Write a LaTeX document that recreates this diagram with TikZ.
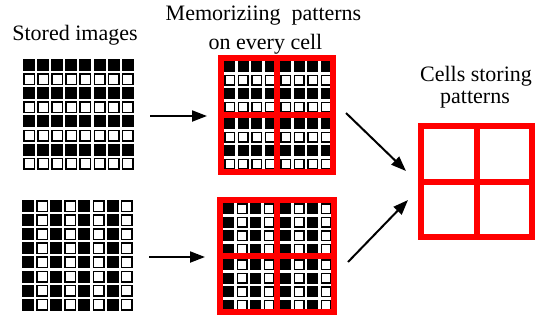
\documentclass[tikz,border=0pt]{standalone}
\usepackage{fontspec}
\setmainfont{Liberation Serif}
\usetikzlibrary{arrows.meta}
\newcommand{\pixblk}[3]{\fill (#1,#2) rectangle ++(#3,#3);}
\newcommand{\pixwht}[3]{\draw[pixline] ({#1+0.75},{#2+0.75}) rectangle ++({#3-1.5},{#3-1.5});}
\newcommand{\lab}[1]{#1}

\begin{document}
\begin{tikzpicture}[x=1pt,y=-1pt,line join=miter,
  every node/.style={inner sep=0pt,outer sep=0pt},
  pixline/.style={line width=1.5pt,draw=black,fill=white},
  redframe/.style={line width=6pt,draw=red},
  flowarrow/.style={line width=2pt,-{Triangle[length=15pt,width=11pt]}},
  title/.style={anchor=base,font=\fontsize{22pt}{26pt}\selectfont}]
  \path[use as bounding box] (0,0) rectangle (545,322);  % canvas 545x322px, y down
  % ---- arrow ends ----
  \coordinate (storedA-out) at (150,116);
  \coordinate (memA-in)     at (207,116);
  \coordinate (storedB-out) at (149,257);
  \coordinate (memB-in)     at (205,257);
  \coordinate (memA-out)    at (346,113);
  \coordinate (cells-inA)   at (406,171);
  \coordinate (memB-out)    at (348,262);
  \coordinate (cells-inB)   at (408,200);
  % ---- stored image A: horizontal stripes ----
  \foreach \r in {0,...,7} \foreach \c in {0,...,7} {
    \pgfmathsetmacro\px{23+14.1*\c}\pgfmathsetmacro\py{59+14.1*\r}
    \ifodd\r \pixwht{\px}{\py}{12}\else \pixblk{\px}{\py}{12}\fi}
  % ---- stored image B: vertical stripes ----
  \foreach \r in {0,...,7} \foreach \c in {0,...,7} {
    \pgfmathsetmacro\px{22+14.1*\c}\pgfmathsetmacro\py{200+14.1*\r}
    \ifodd\c \pixwht{\px}{\py}{12}\else \pixblk{\px}{\py}{12}\fi}
  % ---- memorized cells A (4x4 per quadrant, cut by red frame) ----
  \foreach \qx/\qy in {224/61,280/61,224/118,280/118}
    \foreach \r in {0,...,3} \foreach \c in {0,...,3} {
      \pgfmathsetmacro\px{\qx+13.5*\c}\pgfmathsetmacro\py{\qy+13.5*\r}
      \ifodd\r \pixwht{\px}{\py}{11}\else \pixblk{\px}{\py}{11}\fi}
  \draw[redframe] (221,58) rectangle (333,172);
  \draw[redframe] (277,58) -- (277,172);
  \draw[redframe] (221,115) -- (333,115);
  % ---- memorized cells B ----
  \foreach \qx/\qy in {223/203,280/203,223/259,280/259}
    \foreach \r in {0,...,3} \foreach \c in {0,...,3} {
      \pgfmathsetmacro\px{\qx+13.5*\c}\pgfmathsetmacro\py{\qy+13.5*\r}
      \ifodd\c \pixwht{\px}{\py}{11}\else \pixblk{\px}{\py}{11}\fi}
  \draw[redframe] (220,200) rectangle (334,312);
  \draw[redframe] (277,200) -- (277,312);
  \draw[redframe] (220,256) -- (334,256);
  % ---- cells storing patterns ----
  \draw[redframe] (421,126) rectangle (532,237);
  \draw[redframe] (476.5,126) -- (476.5,237);
  \draw[redframe] (421,181.5) -- (532,181.5);
  % ---- arrows ----
  \draw[flowarrow] (storedA-out) -- (memA-in);
  \draw[flowarrow] (storedB-out) -- (memB-in);
  \draw[flowarrow] (memA-out) -- (cells-inA);
  \draw[flowarrow] (memB-out) -- (cells-inB);
  % ---- labels ----
  \node[title] (t-stored) at (75,40)    {\lab{Stored images}};
  \node[title] (t-mem1)   at (263.5,20) {\lab{Memoriziing\ \ patterns}};
  \node[title] (t-mem2)   at (265.5,49) {\lab{on every cell}};
  \node[title] (t-cells1) at (476,81)   {\lab{Cells storing}};
  \node[title] (t-cells2) at (475,103)  {\lab{patterns}};
\end{tikzpicture}
\end{document}
